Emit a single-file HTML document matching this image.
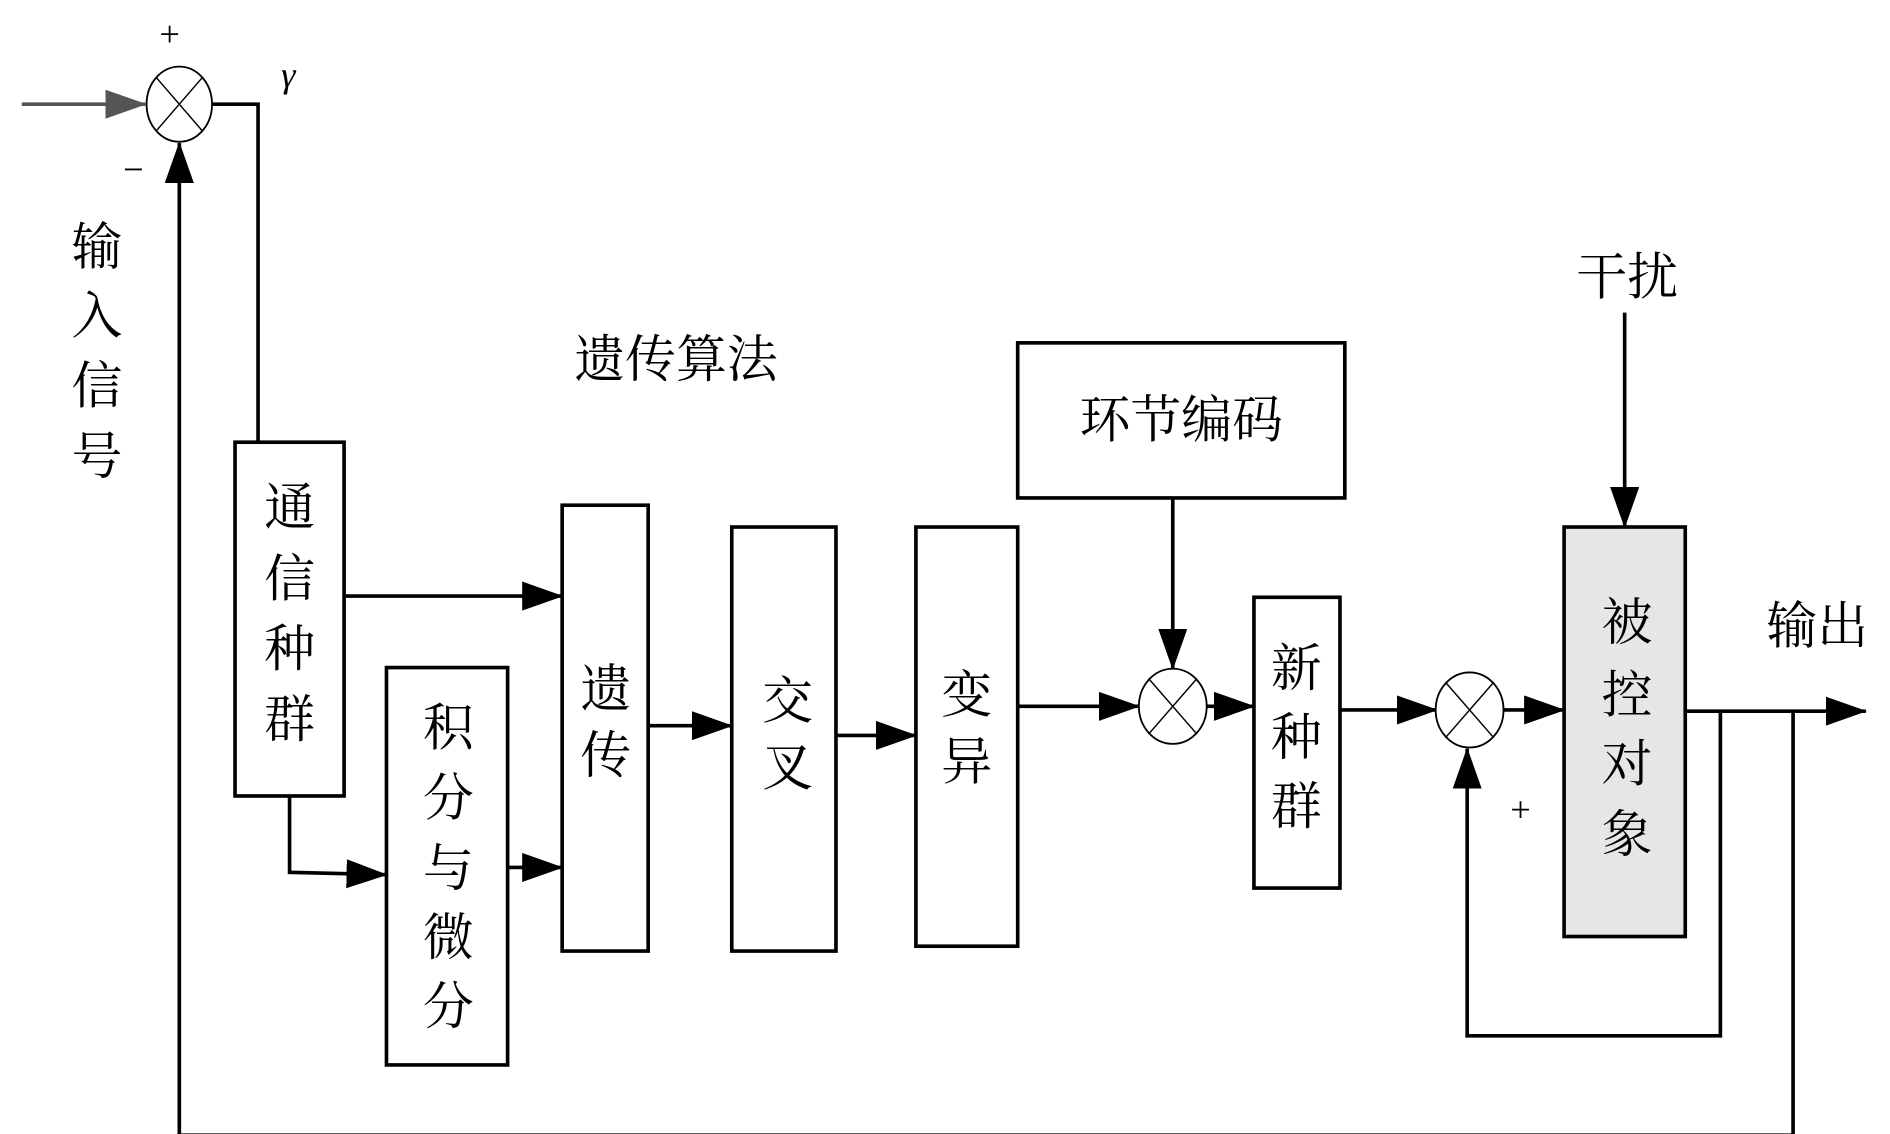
<!DOCTYPE html>
<html><head><meta charset="utf-8"><style>
html,body{margin:0;padding:0;background:#fff;}
svg{display:block;}
text{font-family:"Liberation Serif","Noto Serif CJK SC",serif;fill:#000;}
</style></head><body>
<svg width="1890" height="1134" viewBox="0 0 1560 936" xmlns="http://www.w3.org/2000/svg">
<defs>
<marker id="a" markerWidth="34" markerHeight="24" refX="33" refY="12" orient="auto" markerUnits="userSpaceOnUse"><path d="M0,0 L34,12 L0,24 z" fill="#000"/></marker>
<marker id="g" markerWidth="34" markerHeight="24" refX="33" refY="12" orient="auto" markerUnits="userSpaceOnUse"><path d="M0,0 L34,12 L0,24 z" fill="#555"/></marker>
</defs>
<g stroke="#000" stroke-width="3" fill="none">
<line x1="18" y1="86" x2="120" y2="86" stroke="#555" marker-end="url(#g)"/>
<polyline points="175,86 213,86 213,365"/>
<polyline points="1480,587 1480,937 148,937 148,118" marker-end="url(#a)"/>
<line x1="284" y1="492" x2="464" y2="492" marker-end="url(#a)"/>
<polyline points="239,657 239,720 319,722" marker-end="url(#a)"/>
<line x1="419" y1="716" x2="464" y2="716" marker-end="url(#a)"/>
<line x1="535" y1="599" x2="604" y2="599" marker-end="url(#a)"/>
<line x1="690" y1="607" x2="756" y2="607" marker-end="url(#a)"/>
<line x1="840" y1="583" x2="940" y2="583" marker-end="url(#a)"/>
<line x1="968" y1="411" x2="968" y2="552" marker-end="url(#a)"/>
<line x1="996" y1="583" x2="1035" y2="583" marker-end="url(#a)"/>
<line x1="1106" y1="586" x2="1186" y2="586" marker-end="url(#a)"/>
<line x1="1241" y1="586" x2="1291" y2="586" marker-end="url(#a)"/>
<line x1="1341" y1="258" x2="1341" y2="435" marker-end="url(#a)"/>
<line x1="1391" y1="587" x2="1540" y2="587" marker-end="url(#a)"/>
<polyline points="1420,587 1420,855 1211,855 1211,618" marker-end="url(#a)"/>
<rect x="194" y="365" width="90" height="292"/>
<rect x="319" y="551" width="100" height="328"/>
<rect x="464" y="417" width="71" height="368"/>
<rect x="604" y="435" width="86" height="350"/>
<rect x="756" y="435" width="84" height="346"/>
<rect x="840" y="283" width="270" height="128"/>
<rect x="1035" y="493" width="71" height="240"/>
<rect x="1291" y="435" width="100" height="338" fill="#e6e6e6"/>
</g>
<g stroke="#000" stroke-width="1.5" fill="#fff">
<ellipse cx="148" cy="86" rx="27" ry="31"/>
<ellipse cx="968" cy="583" rx="28" ry="31"/>
<ellipse cx="1213" cy="586" rx="28" ry="31"/>
</g>
<g stroke="#000" stroke-width="1.2">
<path d="M129,64 L167,108 M167,64 L129,108"/>
<path d="M948,560 L988,606 M988,560 L948,606"/>
<path d="M1193,563 L1233,609 M1233,563 L1193,609"/>
</g>
<g font-size="30" text-anchor="middle">
<text x="140" y="38">+</text>
<text x="110" y="150">−</text>
<text x="1255" y="678">+</text>
<text x="238" y="72" font-style="italic">γ</text>
</g>
<g font-size="42" text-anchor="middle" dominant-baseline="central">
<text x="80" y="205">输</text><text x="80" y="262">入</text><text x="80" y="320">信</text><text x="80" y="378">号</text>
<text x="558" y="298">遗传算法</text>
<text x="239" y="420">通</text><text x="239" y="479">信</text><text x="239" y="537">种</text><text x="239" y="595">群</text>
<text x="370" y="602">积</text><text x="370" y="660">分</text><text x="370" y="718">与</text><text x="370" y="775">微</text><text x="370" y="832">分</text>
<text x="500" y="570">遗</text><text x="500" y="625">传</text>
<text x="650" y="580">交</text><text x="650" y="635">叉</text>
<text x="798" y="575">变</text><text x="798" y="630">异</text>
<text x="975" y="348">环节编码</text>
<text x="1070" y="553">新</text><text x="1070" y="610">种</text><text x="1070" y="667">群</text>
<text x="1343" y="515">被</text><text x="1343" y="575">控</text><text x="1343" y="632">对</text><text x="1343" y="690">象</text>
<text x="1343" y="230">干扰</text>
<text x="1500" y="518">输出</text>
</g>
</svg>
</body></html>
